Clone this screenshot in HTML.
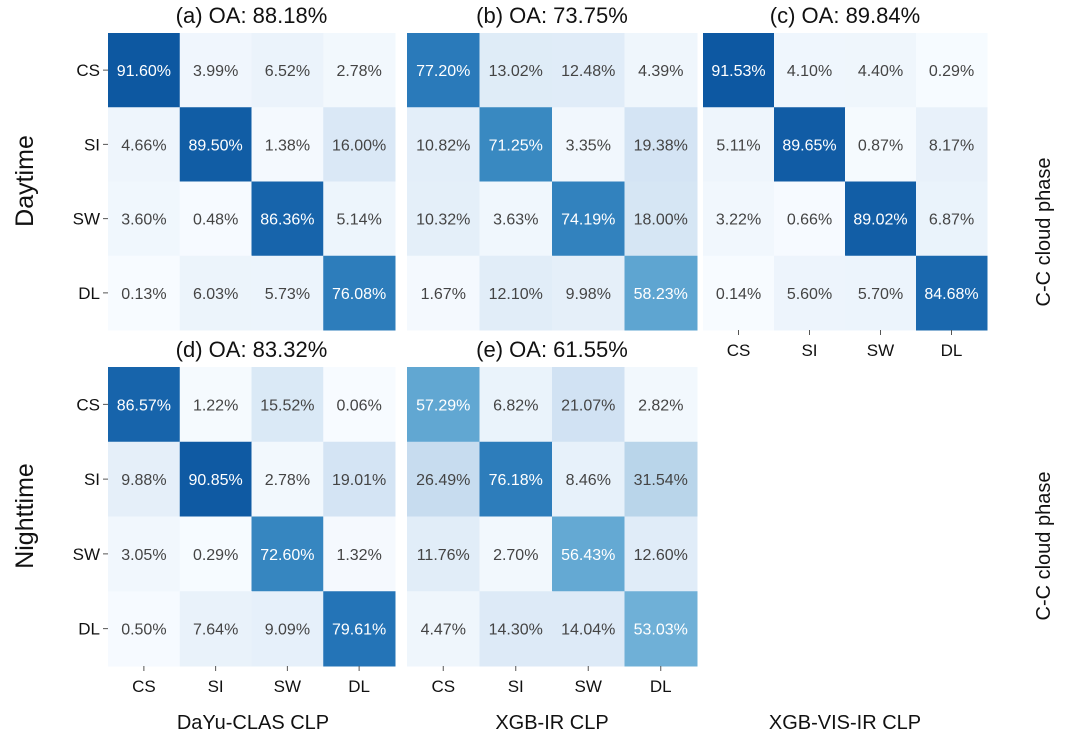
<!DOCTYPE html>
<html><head><meta charset="utf-8"><style>
body{margin:0;background:#fff;width:1080px;height:737px;overflow:hidden;font-family:"Liberation Sans",sans-serif}
svg text{font-family:"Liberation Sans",sans-serif}
</style></head><body>
<svg id="c" width="1080" height="737"></svg>
<script>
const classes=["CS","SI","SW","DL"];
const titles=["(a)  OA: 88.18%","(b)  OA: 73.75%","(c)  OA: 89.84%","(d)  OA: 83.32%","(e)  OA: 61.55%"];
const matA=[[91.60,3.99,6.52,2.78],[4.66,89.50,1.38,16.00],[3.60,0.48,86.36,5.14],[0.13,6.03,5.73,76.08]];
const matB=[[77.20,13.02,12.48,4.39],[10.82,71.25,3.35,19.38],[10.32,3.63,74.19,18.00],[1.67,12.10,9.98,58.23]];
const matC=[[91.53,4.10,4.40,0.29],[5.11,89.65,0.87,8.17],[3.22,0.66,89.02,6.87],[0.14,5.60,5.70,84.68]];
const matD=[[86.57,1.22,15.52,0.06],[9.88,90.85,2.78,19.01],[3.05,0.29,72.60,1.32],[0.50,7.64,9.09,79.61]];
const matE=[[57.29,6.82,21.07,2.82],[26.49,76.18,8.46,31.54],[11.76,2.70,56.43,12.60],[4.47,14.30,14.04,53.03]];
const mats=[matA,matB,matC,matD,matE];
const panels=[{x:108,y:33,w:287,h:297,rl:true,xl:false},{x:407,y:33,w:290,h:297,rl:false,xl:false},{x:703,y:33,w:284,h:297,rl:false,xl:true},
{x:108,y:367,w:287,h:299,rl:true,xl:true},{x:407,y:367,w:290,h:299,rl:false,xl:true}];
const stops=[[247,251,255],[222,235,247],[198,219,239],[158,202,225],[107,174,214],[66,146,198],[33,113,181],[8,81,156],[8,48,107]];
function col(v){let t=Math.max(0,Math.min(1,v/108))*(stops.length-1);let i=Math.min(Math.floor(t),stops.length-2),f=t-i;
const c=stops[i].map((a,k)=>Math.round(a+(stops[i+1][k]-a)*f));return `rgb(${c})`;}
const svg=document.getElementById('c');const NS="http://www.w3.org/2000/svg";
function mk(tag,attrs,txt){const e=document.createElementNS(NS,tag);for(const k in attrs)e.setAttribute(k,attrs[k]);if(txt!=null)e.textContent=txt;svg.appendChild(e);return e;}
panels.forEach((p,pi)=>{
  const cw=p.w/4,ch=p.h/4;
  const t=mk('text',{x:p.x+p.w/2,y:p.y-10,'text-anchor':'middle','font-size':22,fill:'#111'},titles[pi]);
  
  
  mats[pi].forEach((row,r)=>row.forEach((v,c)=>{
    const rc=mk('rect',{x:p.x+c*cw,y:p.y+r*ch,width:cw+0.5,height:ch+0.5,fill:col(v)});
    
    
    const tx=mk('text',{x:p.x+c*cw+cw/2,y:p.y+r*ch+ch/2+6,'text-anchor':'middle','font-size':16,fill:v>50?'#fff':'#444'},v.toFixed(2)+'%');
    
    
  }));
  if(p.rl) classes.forEach((k,r)=>{
    const yy=p.y+r*ch+ch/2;
    mk('line',{x1:p.x-5,x2:p.x,y1:yy,y2:yy,stroke:'#555'});
    const l=mk('text',{x:p.x-8,y:yy+6,'text-anchor':'end','font-size':17,fill:'#111'},k);
    
    
  });
  if(p.xl) classes.forEach((k,c)=>{
    const xx=p.x+c*cw+cw/2;
    mk('line',{x1:xx,x2:xx,y1:p.y+p.h,y2:p.y+p.h+5,stroke:'#555'});
    const l=mk('text',{x:xx,y:p.y+p.h+26,'text-anchor':'middle','font-size':17,fill:'#111'},k);
    
    
  });
});
const side=[["Daytime",33,181],["Nighttime",33,516]];
side.forEach(s=>{const e=mk('text',{x:s[1],y:s[2],'text-anchor':'middle','font-size':25,fill:'#111',transform:`rotate(-90 ${s[1]} ${s[2]})`},s[0]);

});
[232,546].forEach(y=>{const e=mk('text',{x:1050,y:y,'text-anchor':'middle','font-size':20,fill:'#111',transform:`rotate(-90 1050 ${y})`},"C-C cloud phase");

});
[["DaYu-CLAS CLP",253],["XGB-IR CLP",552],["XGB-VIS-IR CLP",845]].forEach(a=>{const e=mk('text',{x:a[1],y:729,'text-anchor':'middle','font-size':20,fill:'#111'},a[0]);

});
</script>
</body></html>
